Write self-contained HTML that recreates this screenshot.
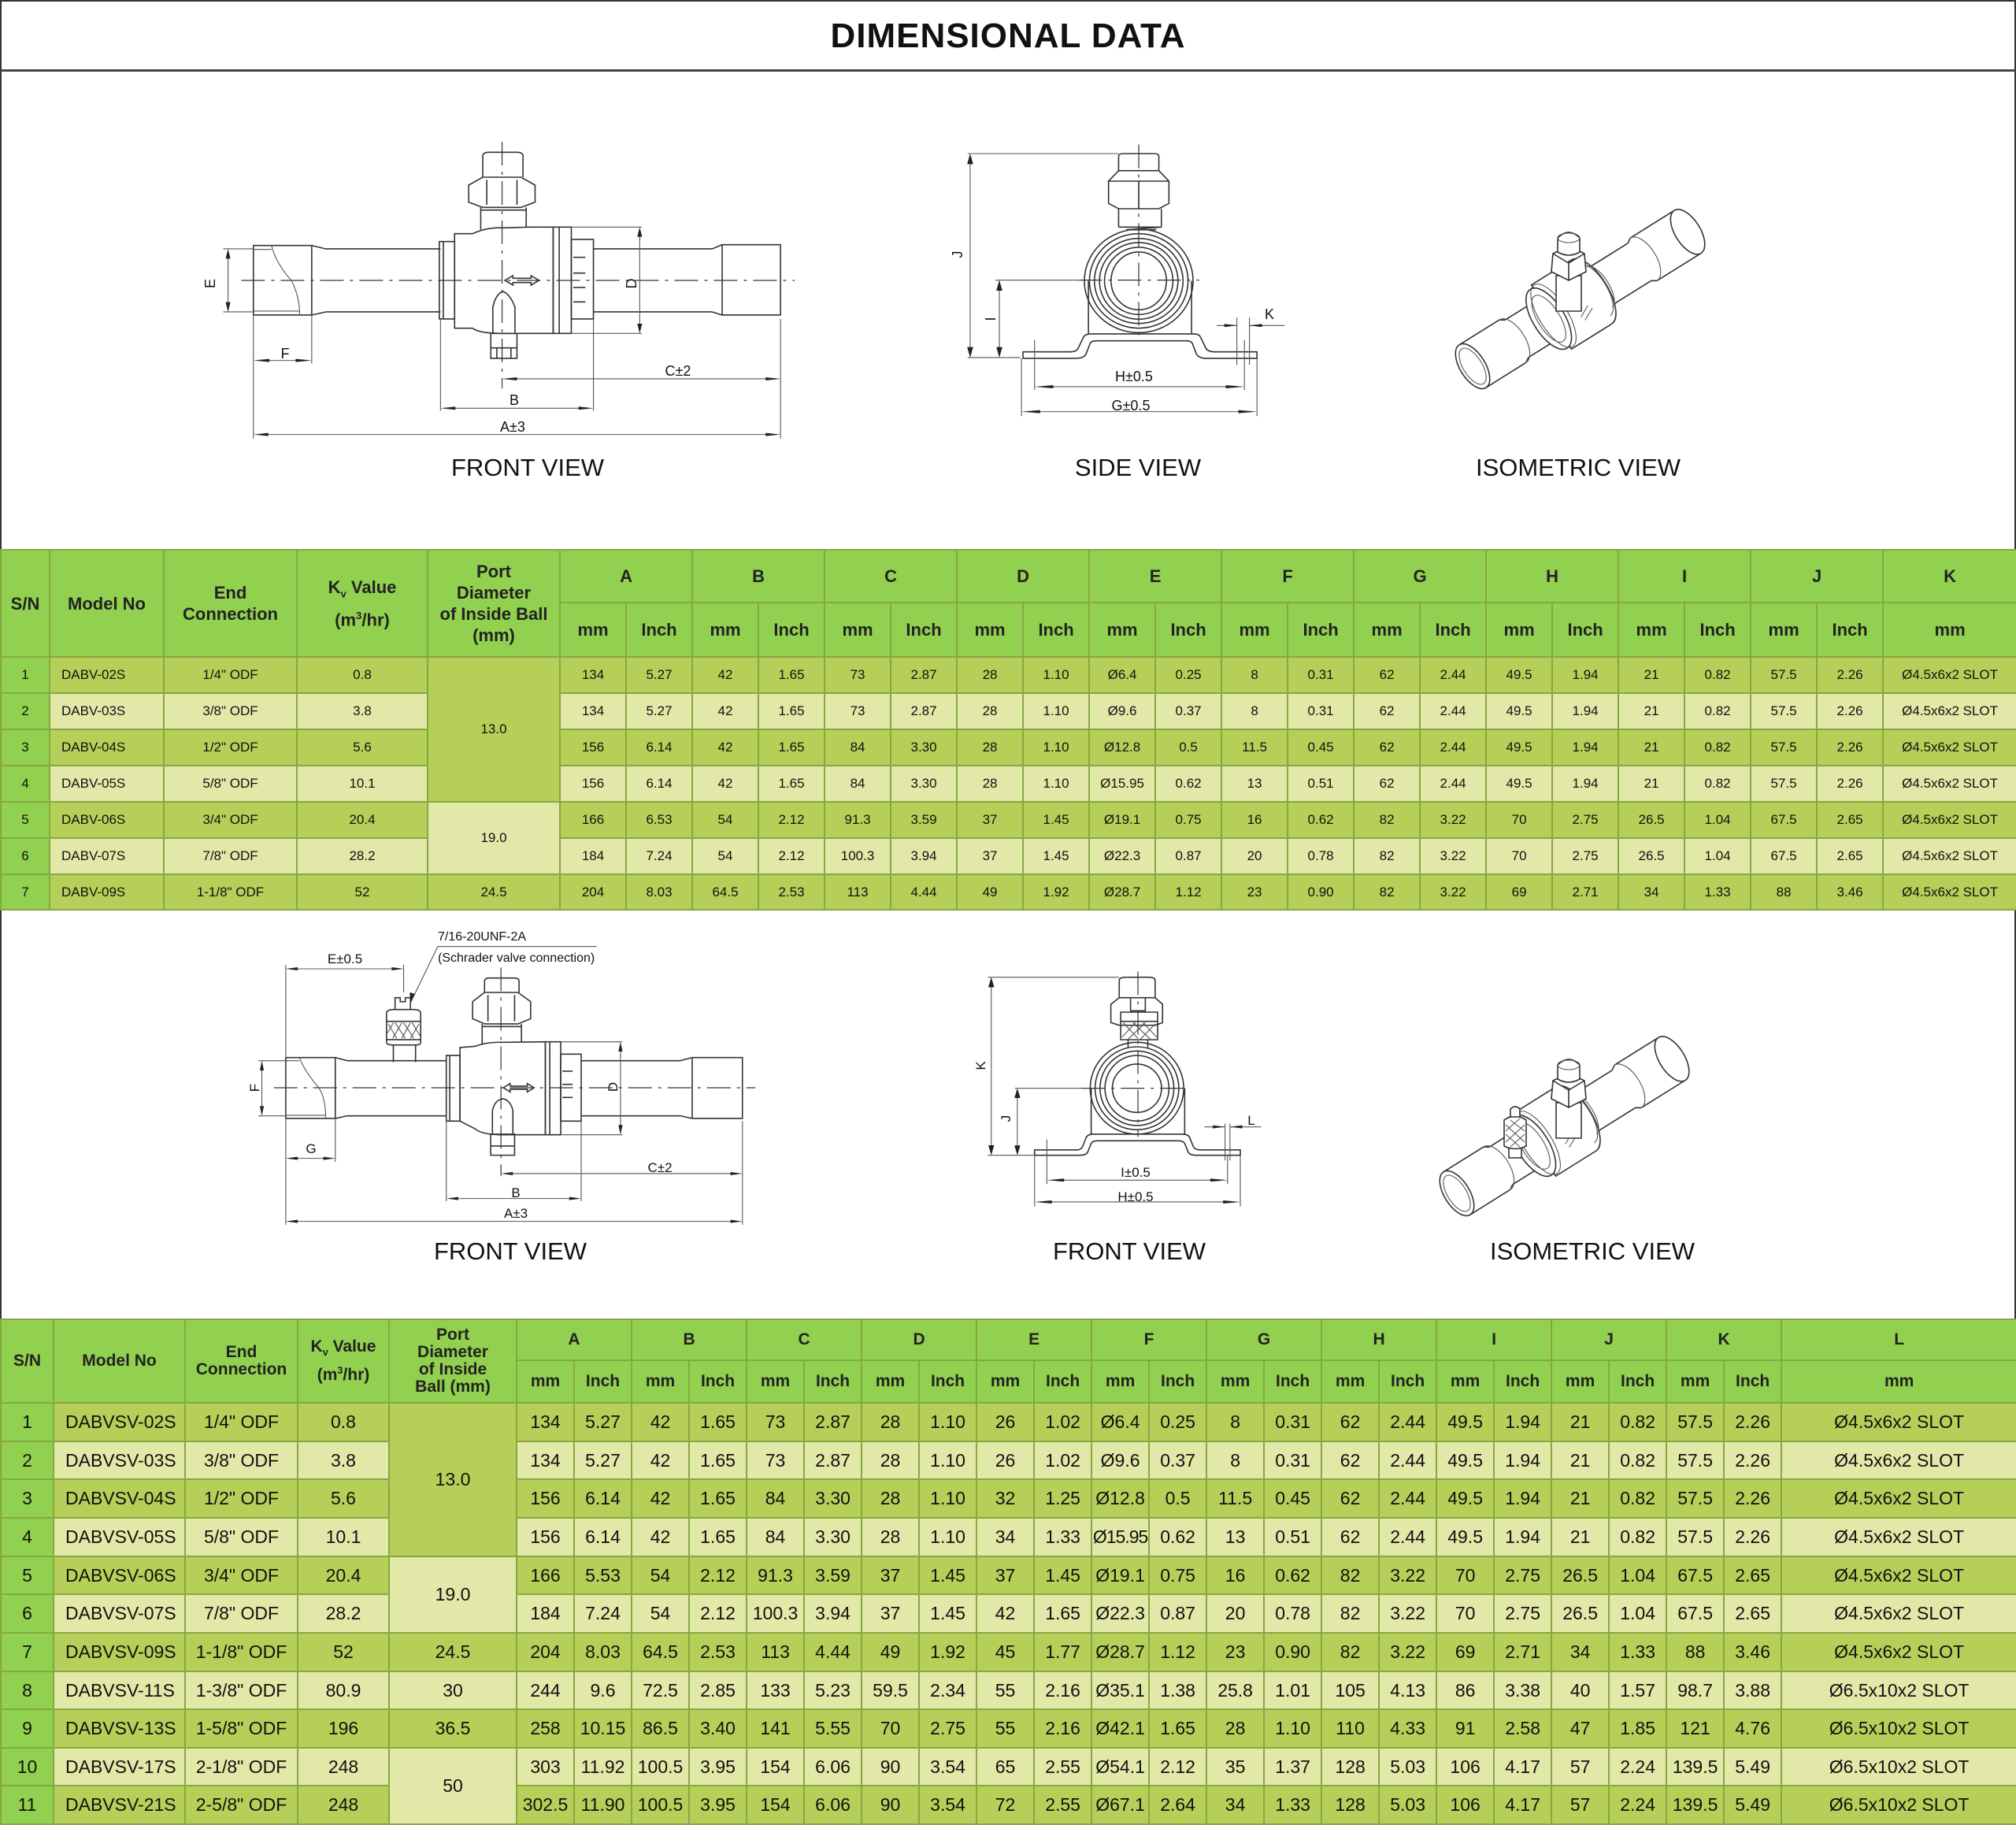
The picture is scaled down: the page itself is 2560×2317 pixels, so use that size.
<!DOCTYPE html>
<html><head><meta charset="utf-8">
<style>
*{margin:0;padding:0;box-sizing:border-box}
body{width:2560px;height:2315px;position:relative;background:#fff;font-family:"Liberation Sans",sans-serif;overflow:hidden;color:#111}
#title{position:absolute;left:0;top:0;width:2560px;height:91px;border:2px solid #333;border-bottom:3px solid #444;text-align:center;font-weight:bold;font-size:44px;line-height:88px;letter-spacing:1px}
.frame{position:absolute;left:0;width:2560px;border-left:2px solid #333;border-right:2px solid #333}
svg{position:absolute;left:0;top:0}
svg .d{fill:none;stroke:#333;stroke-width:1.6;vector-effect:non-scaling-stroke}
svg .w{fill:#fff;stroke:#333;stroke-width:1.6;vector-effect:non-scaling-stroke}
svg .t{fill:none;stroke:#555;stroke-width:1.1;vector-effect:non-scaling-stroke}
svg .c{fill:none;stroke:#333;stroke-width:1.2;stroke-dasharray:30 8 4 8;vector-effect:non-scaling-stroke}
svg .a{fill:#222;stroke:none}
svg text{font-family:"Liberation Sans",sans-serif;fill:#111}
table{position:absolute;left:0;border-collapse:collapse;table-layout:fixed;width:2560px}
td{border:2px solid #86a843;text-align:center;vertical-align:middle;padding:0;white-space:nowrap;overflow:hidden}
.h td{background:#92d050;font-weight:bold;color:#222}
td.s{background:#92d050}
tr.o td{background:#b5cf58}
tr.e td{background:#e2e8a7}
tr.o td.s,tr.e td.s{background:#92d050}
td.po{background:#b5cf58 !important}
td.pe{background:#e2e8a7 !important}
td.m{text-align:left;padding-left:14px}
#t1{top:697px;font-size:17px}
#t1 .h td{font-size:22px;line-height:27px}
#t2{top:1674px;font-size:23px}
#t2 .h td{font-size:21px;line-height:22px}
sub,sup{font-size:60%}
</style></head><body>
<div id="title">DIMENSIONAL DATA</div>
<div class="frame" style="top:91px;height:606px"></div>
<div class="frame" style="top:1153px;height:521px"></div>

<svg width="2560" height="2315" viewBox="0 0 2560 2315">
<defs>
<g id="isoPipe">
<path class="d" d="M0,-32 H60 M0,32 H60 M60,-32 L66,-28 M60,32 L66,28 M66,-28 H112 M66,28 H112"/>
<ellipse class="w" cx="0" cy="0" rx="16" ry="32"/>
<ellipse class="t" cx="0" cy="0" rx="12" ry="26"/>
<path class="t" d="M60,-32 A16,32 0 0 1 60,32"/>
<path class="d" d="M190,-28 H250 M190,28 H250 M250,-28 L256,-32 M250,28 L256,32 M256,-32 H322 M256,32 H322"/>
<path class="t" d="M256,-32 A16,32 0 0 1 256,32"/>
<ellipse class="w" cx="322" cy="0" rx="16" ry="32"/>
<path class="w" d="M118,-48 H178 A20,46 0 0 1 178,48 H118 Z"/>
<ellipse class="w" cx="114" cy="0" rx="20" ry="44"/>
<ellipse class="t" cx="114" cy="0" rx="14" ry="34"/>
<ellipse class="t" cx="121" cy="0" rx="18" ry="46"/>
<path class="t" d="M182,-38 A16,38 0 0 1 182,38 M190,-30 A12,30 0 0 1 190,30"/>
<path class="t" d="M150,20 L165,12 M152,26 L168,18"/>
</g>
</defs>

<!-- FRONT VIEW 1 -->
<g transform="translate(240,160) scale(0.511,0.3333)">
<path class="c" d="M130,588 H1505"/>
<path class="c" d="M778,60 V1000"/>
<path class="d" d="M160,455 H305 V720 H160 Z M305,455 L340,468 M305,720 L340,708"/>
<path class="t" d="M205,455 Q215,520 255,590 Q275,650 275,720"/>
<path class="t" d="M160,470 H205 M160,705 H275"/>
<path class="d" d="M340,468 H625 M340,708 H625"/>
<path class="d" d="M622,440 H660 V735 H622 Z M632,440 V735"/>
<path class="d" d="M660,410 L705,410 Q740,385 780,388 L845,385 L905,385 L905,790 L780,790 Q720,790 705,770 L660,770 Z"/>
<path class="d" d="M905,385 H950 V790 H905 Z M920,385 V790"/>
<path class="d" d="M950,432 H1005 V735 H950 Z M955,500 H985 M955,560 H985 M955,615 H985 M955,670 H985"/>
<path class="d" d="M1005,468 H1300 M1005,708 H1300 M1300,468 L1325,452 M1300,708 L1325,720 M1325,452 H1470 V720 H1325 Z"/>
<path class="d" d="M725,310 V395 M838,310 V385 M725,320 H838"/>
<path class="d" d="M730,195 L825,195 L860,225 L860,290 L825,310 L730,310 L695,290 L695,225 Z M740,205 V300 M815,205 V300"/>
<path class="d" d="M730,195 V115 Q730,100 745,100 H815 Q830,100 830,115 V195"/>
<path class="d" d="M755,790 L755,690 Q762,640 780,630 Q798,640 810,690 L810,790"/>
<path class="d" d="M750,790 H815 V885 H750 Z M750,845 H815 M765,845 V885 M800,845 V885"/>
<path class="d" d="M785,588 L805,570 V580 H850 V570 L870,588 L850,606 V596 H805 V606 Z"/>
<path class="t" d="M85,468 H160 M85,708 H160 M97,480 V696"/>
<path class="a" d="M97,468 L91,505 L103,505 Z M97,708 L91,671 L103,671 Z"/>
<path class="t" d="M160,720 V1190 M305,720 V905 M178,893 H288"/>
<path class="a" d="M160,893 L200,887 L200,899 Z M305,893 L265,887 L265,899 Z"/>
<path class="t" d="M778,975 V1000 M1470,735 V1190 M790,963 H1455"/>
<path class="a" d="M778,963 L815,957 L815,969 Z M1470,963 L1433,957 L1433,969 Z"/>
<path class="t" d="M625,735 V1085 M1005,735 V1085 M640,1075 H990"/>
<path class="a" d="M625,1075 L662,1069 L662,1081 Z M1005,1075 L968,1069 L968,1081 Z"/>
<path class="t" d="M175,1175 H1455"/>
<path class="a" d="M160,1175 L197,1169 L197,1181 Z M1470,1175 L1433,1169 L1433,1181 Z"/>
<path class="t" d="M950,385 H1125 M950,790 H1125 M1120,400 V775"/>
<path class="a" d="M1120,385 L1114,422 L1126,422 Z M1120,790 L1114,753 L1126,753 Z"/>
</g>
<text x="273" y="360" font-size="18" transform="rotate(-90 273 360)" text-anchor="middle">E</text>
<text x="362" y="455" font-size="18" text-anchor="middle">F</text>
<text x="861" y="477" font-size="18" text-anchor="middle">C±2</text>
<text x="653" y="514" font-size="18" text-anchor="middle">B</text>
<text x="651" y="548" font-size="18" text-anchor="middle">A±3</text>
<text x="808" y="360" font-size="18" transform="rotate(-90 808 360)" text-anchor="middle">D</text>
<text x="670" y="604" font-size="31" text-anchor="middle">FRONT VIEW</text>

<!-- SIDE VIEW 1 -->
<g transform="translate(1200,170) scale(0.639,0.3333)">
<path class="c" d="M385,40 V780"/>
<path class="d" d="M345,140 V85 Q345,75 355,75 H415 Q425,75 425,85 V140"/>
<path class="d" d="M345,140 H425 L445,180 V265 L425,285 H345 L325,265 V180 Z M385,180 V285 M325,180 H445"/>
<path class="d" d="M345,285 V355 M430,285 V355 M345,355 H430 L360,365 H420"/>
<ellipse class="d" cx="385" cy="560" rx="108" ry="197"/>
<ellipse class="d" cx="385" cy="560" rx="98" ry="180"/>
<ellipse class="d" cx="385" cy="560" rx="88" ry="162"/>
<ellipse class="d" cx="385" cy="560" rx="78" ry="146"/>
<ellipse class="d" cx="385" cy="560" rx="68" ry="128"/>
<ellipse class="d" cx="385" cy="560" rx="55" ry="110"/>
<path class="d" d="M285,560 V760 M490,560 V760"/>
<path class="d" d="M155,830 L250,830 Q262,830 265,815 L275,775 Q278,762 290,762 L495,762 Q505,762 508,775 L518,815 Q522,830 535,830 L620,830 L620,855 L520,855 Q505,855 500,840 L492,800 Q490,788 480,788 L300,788 Q290,788 288,800 L280,840 Q275,855 260,855 L155,855 Z"/>
<path class="c" d="M265,557 H505"/>
<path class="t" d="M45,75 H345 M45,852 H150 M50,95 V832"/>
<path class="a" d="M50,75 L44,115 L56,115 Z M50,852 L44,812 L56,812 Z"/>
<path class="t" d="M100,557 H265 M108,575 V835"/>
<path class="a" d="M108,557 L102,597 L114,597 Z M108,852 L102,812 L114,812 Z"/>
<path class="t" d="M580,700 V880 M605,700 V880 M540,730 H580 M605,730 H675"/>
<path class="a" d="M580,730 L555,724 L555,736 Z M605,730 L630,724 L630,736 Z"/>
<path class="t" d="M178,785 V975 M595,785 V975 M195,963 H580"/>
<path class="a" d="M178,963 L215,957 L215,969 Z M595,963 L558,957 L558,969 Z"/>
<path class="t" d="M152,855 V1075 M620,855 V1075 M170,1058 H605"/>
<path class="a" d="M152,1058 L189,1052 L189,1064 Z M620,1058 L583,1052 L583,1064 Z"/>
</g>
<text x="1222" y="323" font-size="18" transform="rotate(-90 1222 323)" text-anchor="middle">J</text>
<text x="1258" y="411" font-size="18" transform="rotate(-90 1258 405)" text-anchor="middle">I</text>
<text x="1612" y="405" font-size="18" text-anchor="middle">K</text>
<text x="1440" y="484" font-size="18" text-anchor="middle">H±0.5</text>
<text x="1436" y="521" font-size="18" text-anchor="middle">G±0.5</text>
<text x="1445" y="604" font-size="31" text-anchor="middle">SIDE VIEW</text>
<text x="2004" y="604" font-size="31" text-anchor="middle">ISOMETRIC VIEW</text>

<!-- ISO 1 -->
<g transform="translate(1870,465) rotate(-32)"><use href="#isoPipe"/></g>
<g>
<path class="w" d="M1976,395 V350 H2008 V395 Z"/>
<path class="w" d="M1970,345 L1972,322 L1992,312 L2012,322 L2014,345 L1992,356 Z M1992,334 V356 M1972,322 L1992,334 L2012,322"/>
<path class="w" d="M1978,320 V302 Q1992,288 2006,302 V320 Q1992,328 1978,320 Z"/>
<ellipse class="t" cx="1992" cy="302" rx="14" ry="6"/>
</g>

<!-- FRONT VIEW 2 -->
<g transform="translate(300,1160) scale(0.4337,0.3333)">
<path class="c" d="M110,663 H1520"/>
<path class="c" d="M775,205 V1000"/>
<path class="d" d="M145,548 H290 V780 H145 Z M290,548 L325,560 M290,780 L325,770 M325,560 H615 M325,770 H615"/>
<path class="t" d="M185,548 Q200,600 240,660 Q262,700 262,780 M145,560 H185 M145,768 H262"/>
<path class="d" d="M615,540 H655 V790 H615 Z M625,540 V790"/>
<path class="d" d="M655,510 L700,505 Q735,488 775,490 L905,488 L905,842 L775,842 Q720,842 700,820 L655,790 Z"/>
<path class="d" d="M905,488 H950 V842 H905 Z M918,488 V842"/>
<path class="d" d="M950,535 H1010 V790 H950 Z M955,600 H985 M955,650 H985 M955,700 H985"/>
<path class="d" d="M1010,560 H1300 M1010,770 H1300 M1300,560 L1335,548 M1300,770 L1335,780 M1335,548 H1482 V780 H1335 Z"/>
<path class="d" d="M720,420 V500 M835,420 V490 M720,430 H835"/>
<path class="d" d="M727,300 L825,300 L862,335 L862,400 L825,420 L727,420 L692,400 L692,335 Z M737,310 V410 M815,310 V410"/>
<path class="d" d="M727,300 V258 Q727,245 740,245 H815 Q828,245 828,258 V300"/>
<path class="d" d="M750,840 L750,750 Q757,710 780,705 Q803,710 810,750 L810,840"/>
<path class="d" d="M745,840 H815 V920 H745 Z M745,885 H815"/>
<path class="d" d="M782,663 L802,647 V657 H852 V647 L872,663 L852,679 V669 H802 V679 Z"/>
<path class="d" d="M460,500 V565 M525,500 V565 M440,380 Q440,365 460,365 H520 Q540,365 540,380 V490 Q540,500 525,500 H460 Q440,500 440,490 Z M440,410 H540 M440,480 H540"/>
<path class="t" d="M445,420 L470,475 M465,415 L495,475 M490,415 L520,475 M515,415 L538,465 M535,420 L510,475 M510,415 L485,475 M485,415 L458,475 M460,415 L442,455"/>
<path class="d" d="M465,365 V320 H480 V335 H495 V320 H510 V365"/>
<path class="t" d="M510,340 L590,125 H1055"/>
<path class="a" d="M510,340 L508,300 L522,305 Z"/>
<path class="t" d="M145,195 V548 M490,195 V300 M160,210 H475"/>
<path class="a" d="M145,210 L180,204 L180,216 Z M490,210 L455,204 L455,216 Z"/>
<path class="t" d="M65,560 H145 M65,770 H145 M75,578 V752"/>
<path class="a" d="M75,560 L69,597 L81,597 Z M75,770 L69,733 L81,733 Z"/>
<path class="t" d="M145,780 V1185 M290,780 V945 M160,932 H275"/>
<path class="a" d="M145,932 L180,926 L180,938 Z M290,932 L255,926 L255,938 Z"/>
<path class="t" d="M1482,790 V1185 M790,990 H1467"/>
<path class="a" d="M775,990 L810,984 L810,996 Z M1482,990 L1447,984 L1447,996 Z"/>
<path class="t" d="M615,790 V1095 M1010,790 V1095 M630,1085 H995"/>
<path class="a" d="M615,1085 L650,1079 L650,1091 Z M1010,1085 L975,1079 L975,1091 Z"/>
<path class="t" d="M160,1172 H1467"/>
<path class="a" d="M145,1172 L180,1166 L180,1178 Z M1482,1172 L1447,1166 L1447,1178 Z"/>
<path class="t" d="M950,488 H1130 M950,842 H1130 M1125,505 V825"/>
<path class="a" d="M1125,488 L1119,525 L1131,525 Z M1125,842 L1119,805 L1131,805 Z"/>
</g>
<text x="556" y="1194" font-size="16">7/16-20UNF-2A</text>
<text x="556" y="1221" font-size="16">(Schrader valve connection)</text>
<text x="438" y="1223" font-size="17" text-anchor="middle">E±0.5</text>
<text x="329" y="1381" font-size="17" transform="rotate(-90 329 1381)" text-anchor="middle">F</text>
<text x="395" y="1464" font-size="17" text-anchor="middle">G</text>
<text x="838" y="1488" font-size="17" text-anchor="middle">C±2</text>
<text x="655" y="1520" font-size="17" text-anchor="middle">B</text>
<text x="655" y="1546" font-size="17" text-anchor="middle">A±3</text>
<text x="784" y="1380" font-size="17" transform="rotate(-90 784 1380)" text-anchor="middle">D</text>
<text x="648" y="1599" font-size="31" text-anchor="middle">FRONT VIEW</text>

<!-- SIDE VIEW 2 -->
<g transform="translate(1220,1220) scale(0.625,0.3333)">
<path class="c" d="M360,40 V670"/>
<path class="d" d="M322,140 V75 Q322,62 335,62 H382 Q395,62 395,75 V140"/>
<path class="d" d="M322,140 H395 L410,165 V235 L395,245 H322 L305,235 V165 Z"/>
<path class="d" d="M325,195 H400 V300 H325 Z M325,230 H400 M345,140 V190 H375 V140"/>
<path class="t" d="M330,235 L360,295 M350,235 L385,298 M370,235 L398,290 M395,240 L365,298 M375,235 L340,298 M355,235 L328,290"/>
<path class="d" d="M340,300 V330 M380,300 V330"/>
<ellipse class="d" cx="358" cy="485" rx="95" ry="175"/>
<ellipse class="d" cx="358" cy="485" rx="85" ry="158"/>
<ellipse class="d" cx="358" cy="485" rx="75" ry="142"/>
<ellipse class="d" cx="358" cy="485" rx="65" ry="125"/>
<ellipse class="d" cx="358" cy="485" rx="50" ry="92"/>
<path class="d" d="M265,485 V660 M455,485 V660"/>
<path class="d" d="M150,720 L235,720 Q245,720 248,705 L255,672 Q258,660 270,660 L450,660 Q462,660 465,672 L472,705 Q475,720 488,720 L568,720 L568,740 L478,740 Q465,740 462,728 L455,695 Q452,685 442,685 L278,685 Q268,685 265,695 L258,728 Q255,740 242,740 L150,740 Z"/>
<path class="c" d="M245,485 H465"/>
<path class="t" d="M55,62 H322 M55,740 H150 M62,80 V722"/>
<path class="a" d="M62,62 L56,100 L68,100 Z M62,740 L56,702 L68,702 Z"/>
<path class="t" d="M110,485 H245 M115,500 V725"/>
<path class="a" d="M115,485 L109,522 L121,522 Z M115,740 L109,703 L121,703 Z"/>
<path class="t" d="M537,620 V760 M547,620 V760 M495,632 H537 M547,632 H610"/>
<path class="a" d="M537,632 L512,626 L512,638 Z M547,632 L572,626 L572,638 Z"/>
<path class="t" d="M175,680 V850 M542,740 V850 M190,835 H527"/>
<path class="a" d="M175,835 L210,829 L210,841 Z M542,835 L507,829 L507,841 Z"/>
<path class="t" d="M150,740 V935 M568,740 V935 M165,918 H553"/>
<path class="a" d="M150,918 L185,912 L185,924 Z M568,918 L533,912 L533,924 Z"/>
</g>
<text x="1251" y="1353" font-size="17" transform="rotate(-90 1251 1353)" text-anchor="middle">K</text>
<text x="1283" y="1420" font-size="17" transform="rotate(-90 1283 1420)" text-anchor="middle">J</text>
<text x="1589" y="1428" font-size="17" text-anchor="middle">L</text>
<text x="1442" y="1494" font-size="17" text-anchor="middle">I±0.5</text>
<text x="1442" y="1525" font-size="17" text-anchor="middle">H±0.5</text>
<text x="1434" y="1599" font-size="31" text-anchor="middle">FRONT VIEW</text>
<text x="2022" y="1599" font-size="31" text-anchor="middle">ISOMETRIC VIEW</text>

<!-- ISO 2 -->
<g transform="translate(1850,1515) rotate(-32)"><use href="#isoPipe"/></g>
<g>
<path class="w" d="M1976,1445 V1400 H2008 V1445 Z"/>
<path class="w" d="M1970,1395 L1972,1372 L1992,1362 L2012,1372 L2014,1395 L1992,1406 Z M1992,1384 V1406 M1972,1372 L1992,1384 L2012,1372"/>
<path class="w" d="M1978,1370 V1352 Q1992,1338 2006,1352 V1370 Q1992,1378 1978,1370 Z"/>
<ellipse class="t" cx="1992" cy="1352" rx="14" ry="6"/>
<path class="w" d="M1916,1470 V1455 H1932 V1470 Z"/>
<path class="w" d="M1910,1455 V1422 Q1924,1412 1938,1422 V1455 Q1924,1462 1910,1455 Z"/>
<path class="t" d="M1912,1428 L1936,1450 M1912,1440 L1930,1456 M1936,1428 L1912,1450 M1936,1440 L1918,1456 M1918,1422 L1936,1436 M1930,1420 L1912,1436"/>
<path class="w" d="M1918,1418 V1408 Q1924,1402 1930,1408 V1418 Z"/>
</g>
</svg>

<table id="t1">
<colgroup><col style="width:62px"><col style="width:145px"><col style="width:169px"><col style="width:166px"><col style="width:168px">
<col style="width:84px"><col style="width:84px"><col style="width:84px"><col style="width:84px"><col style="width:84px"><col style="width:84px"><col style="width:84px"><col style="width:84px"><col style="width:84px"><col style="width:84px"><col style="width:84px"><col style="width:84px"><col style="width:84px"><col style="width:84px"><col style="width:84px"><col style="width:84px"><col style="width:84px"><col style="width:84px"><col style="width:84px"><col style="width:84px"><col style="width:170px"></colgroup>
<tr class="h" style="height:67px"><td rowspan="2">S/N</td><td rowspan="2">Model No</td><td rowspan="2">End<br>Connection</td><td rowspan="2">K<sub>v</sub> Value<br>(m<sup>3</sup>/hr)</td><td rowspan="2">Port<br>Diameter<br>of Inside Ball<br>(mm)</td>
<td colspan="2">A</td><td colspan="2">B</td><td colspan="2">C</td><td colspan="2">D</td><td colspan="2">E</td><td colspan="2">F</td><td colspan="2">G</td><td colspan="2">H</td><td colspan="2">I</td><td colspan="2">J</td><td>K</td></tr>
<tr class="h" style="height:69px"><td>mm</td><td>Inch</td><td>mm</td><td>Inch</td><td>mm</td><td>Inch</td><td>mm</td><td>Inch</td><td>mm</td><td>Inch</td><td>mm</td><td>Inch</td><td>mm</td><td>Inch</td><td>mm</td><td>Inch</td><td>mm</td><td>Inch</td><td>mm</td><td>Inch</td><td>mm</td></tr>
<tr class="o" style="height:46px"><td class="s">1</td><td class="m">DABV-02S</td><td>1/4" ODF</td><td>0.8</td><td rowspan="4" class="po">13.0</td><td>134</td><td>5.27</td><td>42</td><td>1.65</td><td>73</td><td>2.87</td><td>28</td><td>1.10</td><td>Ø6.4</td><td>0.25</td><td>8</td><td>0.31</td><td>62</td><td>2.44</td><td>49.5</td><td>1.94</td><td>21</td><td>0.82</td><td>57.5</td><td>2.26</td><td>Ø4.5x6x2 SLOT</td></tr>
<tr class="e" style="height:46px"><td class="s">2</td><td class="m">DABV-03S</td><td>3/8" ODF</td><td>3.8</td><td>134</td><td>5.27</td><td>42</td><td>1.65</td><td>73</td><td>2.87</td><td>28</td><td>1.10</td><td>Ø9.6</td><td>0.37</td><td>8</td><td>0.31</td><td>62</td><td>2.44</td><td>49.5</td><td>1.94</td><td>21</td><td>0.82</td><td>57.5</td><td>2.26</td><td>Ø4.5x6x2 SLOT</td></tr>
<tr class="o" style="height:46px"><td class="s">3</td><td class="m">DABV-04S</td><td>1/2" ODF</td><td>5.6</td><td>156</td><td>6.14</td><td>42</td><td>1.65</td><td>84</td><td>3.30</td><td>28</td><td>1.10</td><td>Ø12.8</td><td>0.5</td><td>11.5</td><td>0.45</td><td>62</td><td>2.44</td><td>49.5</td><td>1.94</td><td>21</td><td>0.82</td><td>57.5</td><td>2.26</td><td>Ø4.5x6x2 SLOT</td></tr>
<tr class="e" style="height:46px"><td class="s">4</td><td class="m">DABV-05S</td><td>5/8" ODF</td><td>10.1</td><td>156</td><td>6.14</td><td>42</td><td>1.65</td><td>84</td><td>3.30</td><td>28</td><td>1.10</td><td>Ø15.95</td><td>0.62</td><td>13</td><td>0.51</td><td>62</td><td>2.44</td><td>49.5</td><td>1.94</td><td>21</td><td>0.82</td><td>57.5</td><td>2.26</td><td>Ø4.5x6x2 SLOT</td></tr>
<tr class="o" style="height:46px"><td class="s">5</td><td class="m">DABV-06S</td><td>3/4" ODF</td><td>20.4</td><td rowspan="2" class="pe">19.0</td><td>166</td><td>6.53</td><td>54</td><td>2.12</td><td>91.3</td><td>3.59</td><td>37</td><td>1.45</td><td>Ø19.1</td><td>0.75</td><td>16</td><td>0.62</td><td>82</td><td>3.22</td><td>70</td><td>2.75</td><td>26.5</td><td>1.04</td><td>67.5</td><td>2.65</td><td>Ø4.5x6x2 SLOT</td></tr>
<tr class="e" style="height:46px"><td class="s">6</td><td class="m">DABV-07S</td><td>7/8" ODF</td><td>28.2</td><td>184</td><td>7.24</td><td>54</td><td>2.12</td><td>100.3</td><td>3.94</td><td>37</td><td>1.45</td><td>Ø22.3</td><td>0.87</td><td>20</td><td>0.78</td><td>82</td><td>3.22</td><td>70</td><td>2.75</td><td>26.5</td><td>1.04</td><td>67.5</td><td>2.65</td><td>Ø4.5x6x2 SLOT</td></tr>
<tr class="o" style="height:45px"><td class="s">7</td><td class="m">DABV-09S</td><td>1-1/8" ODF</td><td>52</td><td class="po">24.5</td><td>204</td><td>8.03</td><td>64.5</td><td>2.53</td><td>113</td><td>4.44</td><td>49</td><td>1.92</td><td>Ø28.7</td><td>1.12</td><td>23</td><td>0.90</td><td>82</td><td>3.22</td><td>69</td><td>2.71</td><td>34</td><td>1.33</td><td>88</td><td>3.46</td><td>Ø4.5x6x2 SLOT</td></tr>
</table>

<table id="t2">
<colgroup><col style="width:67px"><col style="width:167px"><col style="width:143px"><col style="width:116px"><col style="width:162px">
<col style="width:73px"><col style="width:73px"><col style="width:73px"><col style="width:73px"><col style="width:73px"><col style="width:73px"><col style="width:73px"><col style="width:73px"><col style="width:73px"><col style="width:73px"><col style="width:73px"><col style="width:73px"><col style="width:73px"><col style="width:73px"><col style="width:73px"><col style="width:73px"><col style="width:73px"><col style="width:73px"><col style="width:73px"><col style="width:73px"><col style="width:73px"><col style="width:73px"><col style="width:299px"></colgroup>
<tr class="h" style="height:52px"><td rowspan="2">S/N</td><td rowspan="2">Model No</td><td rowspan="2">End<br>Connection</td><td rowspan="2">K<sub>v</sub> Value<br>(m<sup>3</sup>/hr)</td><td rowspan="2">Port<br>Diameter<br>of Inside<br>Ball (mm)</td>
<td colspan="2">A</td><td colspan="2">B</td><td colspan="2">C</td><td colspan="2">D</td><td colspan="2">E</td><td colspan="2">F</td><td colspan="2">G</td><td colspan="2">H</td><td colspan="2">I</td><td colspan="2">J</td><td colspan="2">K</td><td>L</td></tr>
<tr class="h" style="height:54px"><td>mm</td><td>Inch</td><td>mm</td><td>Inch</td><td>mm</td><td>Inch</td><td>mm</td><td>Inch</td><td>mm</td><td>Inch</td><td>mm</td><td>Inch</td><td>mm</td><td>Inch</td><td>mm</td><td>Inch</td><td>mm</td><td>Inch</td><td>mm</td><td>Inch</td><td>mm</td><td>Inch</td><td>mm</td></tr>
<tr class="o" style="height:49px"><td class="s">1</td><td class="m">DABVSV-02S</td><td>1/4" ODF</td><td>0.8</td><td rowspan="4" class="po">13.0</td><td>134</td><td>5.27</td><td>42</td><td>1.65</td><td>73</td><td>2.87</td><td>28</td><td>1.10</td><td>26</td><td>1.02</td><td>Ø6.4</td><td>0.25</td><td>8</td><td>0.31</td><td>62</td><td>2.44</td><td>49.5</td><td>1.94</td><td>21</td><td>0.82</td><td>57.5</td><td>2.26</td><td>Ø4.5x6x2 SLOT</td></tr>
<tr class="e" style="height:48px"><td class="s">2</td><td class="m">DABVSV-03S</td><td>3/8" ODF</td><td>3.8</td><td>134</td><td>5.27</td><td>42</td><td>1.65</td><td>73</td><td>2.87</td><td>28</td><td>1.10</td><td>26</td><td>1.02</td><td>Ø9.6</td><td>0.37</td><td>8</td><td>0.31</td><td>62</td><td>2.44</td><td>49.5</td><td>1.94</td><td>21</td><td>0.82</td><td>57.5</td><td>2.26</td><td>Ø4.5x6x2 SLOT</td></tr>
<tr class="o" style="height:49px"><td class="s">3</td><td class="m">DABVSV-04S</td><td>1/2" ODF</td><td>5.6</td><td>156</td><td>6.14</td><td>42</td><td>1.65</td><td>84</td><td>3.30</td><td>28</td><td>1.10</td><td>32</td><td>1.25</td><td>Ø12.8</td><td>0.5</td><td>11.5</td><td>0.45</td><td>62</td><td>2.44</td><td>49.5</td><td>1.94</td><td>21</td><td>0.82</td><td>57.5</td><td>2.26</td><td>Ø4.5x6x2 SLOT</td></tr>
<tr class="e" style="height:49px"><td class="s">4</td><td class="m">DABVSV-05S</td><td>5/8" ODF</td><td>10.1</td><td>156</td><td>6.14</td><td>42</td><td>1.65</td><td>84</td><td>3.30</td><td>28</td><td>1.10</td><td>34</td><td>1.33</td><td style="letter-spacing:-1px">Ø15.95</td><td>0.62</td><td>13</td><td>0.51</td><td>62</td><td>2.44</td><td>49.5</td><td>1.94</td><td>21</td><td>0.82</td><td>57.5</td><td>2.26</td><td>Ø4.5x6x2 SLOT</td></tr>
<tr class="o" style="height:48px"><td class="s">5</td><td class="m">DABVSV-06S</td><td>3/4" ODF</td><td>20.4</td><td rowspan="2" class="pe">19.0</td><td>166</td><td>5.53</td><td>54</td><td>2.12</td><td>91.3</td><td>3.59</td><td>37</td><td>1.45</td><td>37</td><td>1.45</td><td>Ø19.1</td><td>0.75</td><td>16</td><td>0.62</td><td>82</td><td>3.22</td><td>70</td><td>2.75</td><td>26.5</td><td>1.04</td><td>67.5</td><td>2.65</td><td>Ø4.5x6x2 SLOT</td></tr>
<tr class="e" style="height:49px"><td class="s">6</td><td class="m">DABVSV-07S</td><td>7/8" ODF</td><td>28.2</td><td>184</td><td>7.24</td><td>54</td><td>2.12</td><td>100.3</td><td>3.94</td><td>37</td><td>1.45</td><td>42</td><td>1.65</td><td>Ø22.3</td><td>0.87</td><td>20</td><td>0.78</td><td>82</td><td>3.22</td><td>70</td><td>2.75</td><td>26.5</td><td>1.04</td><td>67.5</td><td>2.65</td><td>Ø4.5x6x2 SLOT</td></tr>
<tr class="o" style="height:49px"><td class="s">7</td><td class="m">DABVSV-09S</td><td>1-1/8" ODF</td><td>52</td><td class="po">24.5</td><td>204</td><td>8.03</td><td>64.5</td><td>2.53</td><td>113</td><td>4.44</td><td>49</td><td>1.92</td><td>45</td><td>1.77</td><td>Ø28.7</td><td>1.12</td><td>23</td><td>0.90</td><td>82</td><td>3.22</td><td>69</td><td>2.71</td><td>34</td><td>1.33</td><td>88</td><td>3.46</td><td>Ø4.5x6x2 SLOT</td></tr>
<tr class="e" style="height:48px"><td class="s">8</td><td class="m">DABVSV-11S</td><td>1-3/8" ODF</td><td>80.9</td><td class="pe">30</td><td>244</td><td>9.6</td><td>72.5</td><td>2.85</td><td>133</td><td>5.23</td><td>59.5</td><td>2.34</td><td>55</td><td>2.16</td><td>Ø35.1</td><td>1.38</td><td>25.8</td><td>1.01</td><td>105</td><td>4.13</td><td>86</td><td>3.38</td><td>40</td><td>1.57</td><td>98.7</td><td>3.88</td><td>Ø6.5x10x2 SLOT</td></tr>
<tr class="o" style="height:49px"><td class="s">9</td><td class="m">DABVSV-13S</td><td>1-5/8" ODF</td><td>196</td><td class="po">36.5</td><td>258</td><td>10.15</td><td>86.5</td><td>3.40</td><td>141</td><td>5.55</td><td>70</td><td>2.75</td><td>55</td><td>2.16</td><td>Ø42.1</td><td>1.65</td><td>28</td><td>1.10</td><td>110</td><td>4.33</td><td>91</td><td>2.58</td><td>47</td><td>1.85</td><td>121</td><td>4.76</td><td>Ø6.5x10x2 SLOT</td></tr>
<tr class="e" style="height:48px"><td class="s">10</td><td class="m">DABVSV-17S</td><td>2-1/8" ODF</td><td>248</td><td rowspan="2" class="pe">50</td><td>303</td><td>11.92</td><td>100.5</td><td>3.95</td><td>154</td><td>6.06</td><td>90</td><td>3.54</td><td>65</td><td>2.55</td><td>Ø54.1</td><td>2.12</td><td>35</td><td>1.37</td><td>128</td><td>5.03</td><td>106</td><td>4.17</td><td>57</td><td>2.24</td><td>139.5</td><td>5.49</td><td>Ø6.5x10x2 SLOT</td></tr>
<tr class="o" style="height:49px"><td class="s">11</td><td class="m">DABVSV-21S</td><td>2-5/8" ODF</td><td>248</td><td>302.5</td><td>11.90</td><td>100.5</td><td>3.95</td><td>154</td><td>6.06</td><td>90</td><td>3.54</td><td>72</td><td>2.55</td><td>Ø67.1</td><td>2.64</td><td>34</td><td>1.33</td><td>128</td><td>5.03</td><td>106</td><td>4.17</td><td>57</td><td>2.24</td><td>139.5</td><td>5.49</td><td>Ø6.5x10x2 SLOT</td></tr>
</table>
</body></html>
